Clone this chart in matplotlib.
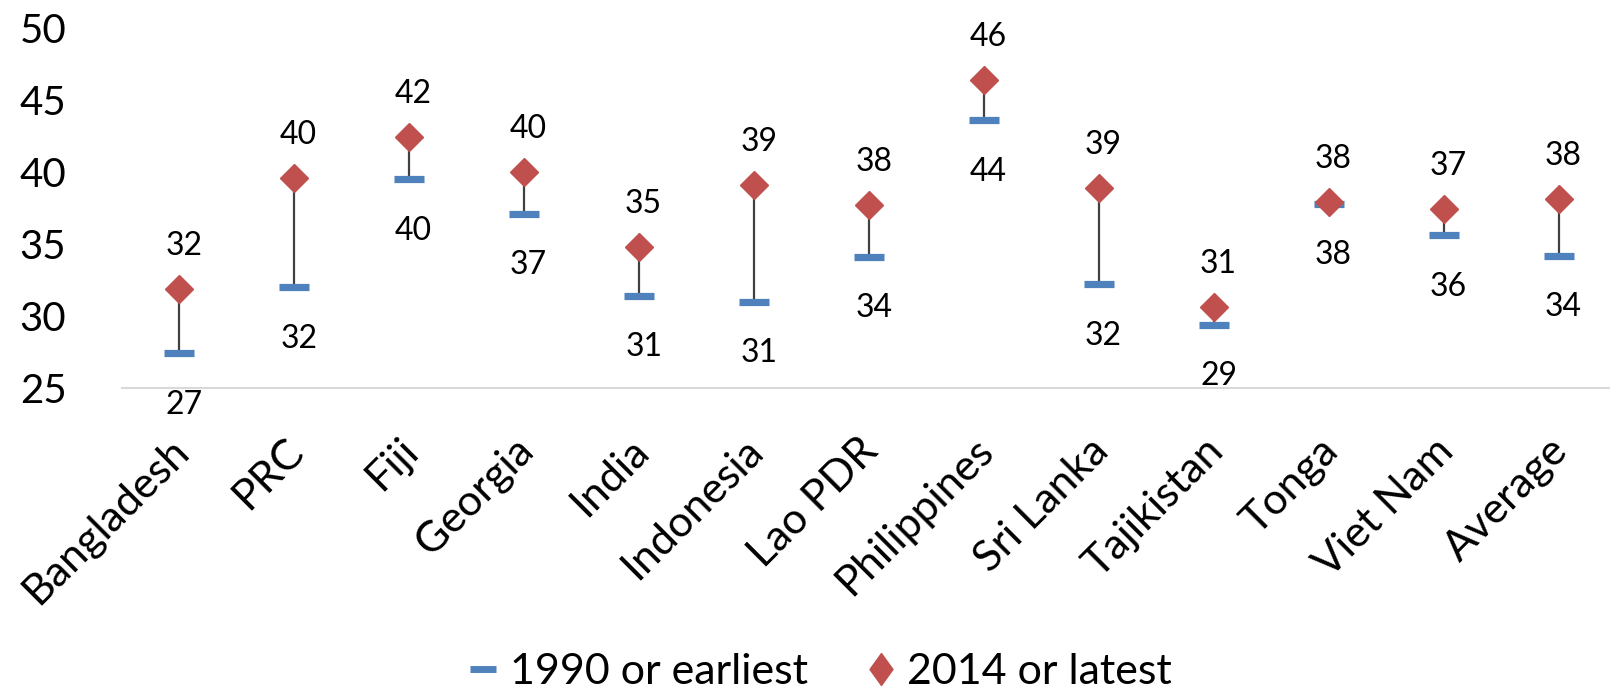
import matplotlib
matplotlib.use("Agg")
import matplotlib.pyplot as plt
from matplotlib.lines import Line2D
from matplotlib import transforms

plt.rcParams['font.family'] = ['Lato', 'DejaVu Sans']

countries = ["Bangladesh", "PRC", "Fiji", "Georgia", "India", "Indonesia",
             "Lao PDR", "Philippines", "Sri Lanka", "Tajikistan", "Tonga",
             "Viet Nam", "Average"]
earliest = [27.4, 32.0, 39.5, 37.1, 31.4, 31.0, 34.1, 43.6, 32.2, 29.4, 37.8, 35.6, 34.2]
latest = [31.9, 39.6, 42.4, 40.0, 34.8, 39.1, 37.7, 46.4, 38.9, 30.6, 37.9, 37.4, 38.1]
yticks = [25, 30, 35, 40, 45, 50]

BLUE = "#4F81BD"
RED = "#C0504D"
LINE = "#404040"

W, H = 1610, 691
fig = plt.figure(figsize=(W / 100, H / 100), dpi=100)
ax = fig.add_axes([122 / W, 1 - 388 / H, 1 - 122 / W, (388 - 28) / H])

x = list(range(len(countries)))

# high-low connector lines
ax.vlines(x, earliest, latest, color=LINE, lw=1.6, zorder=1)
ax.plot(x, earliest, ls="none", marker="_", ms=21, mew=5.2, color=BLUE, zorder=2)
ax.plot(x, latest, ls="none", marker="D", ms=14.5, color=RED, mec=RED, zorder=3)

for xi, lo, hi in zip(x, earliest, latest):
    ax.annotate(f"{hi:.0f}", (xi, hi), xytext=(3, 31), textcoords="offset points",
                ha="center", va="center", fontsize=23)
    ax.annotate(f"{lo:.0f}", (xi, lo), xytext=(3, -37), textcoords="offset points",
                ha="center", va="center", fontsize=23)

ax.set_xlim(-0.5, len(countries) - 0.56)
ax.set_ylim(25, 50)
ax.set_yticks(yticks)
ax.set_yticklabels([str(t) for t in yticks], fontsize=29)
ax.tick_params(axis="y", length=0, pad=40)
ax.set_xticks(x)
ax.set_xticklabels([])
ax.tick_params(axis="x", length=0)

for s in ["left", "right", "top"]:
    ax.spines[s].set_visible(False)
ax.spines["bottom"].set_color("#D9D9D9")
ax.spines["bottom"].set_linewidth(1.5)

# rotated category labels hanging under the axis, text end anchored on the baseline
off = transforms.ScaledTranslation(11 / 100, -65 / 100, fig.dpi_scale_trans)
trans = transforms.blended_transform_factory(ax.transData, ax.transAxes) + off
for xi, name in zip(x, countries):
    ax.text(xi, 0, name, transform=trans, rotation=45, rotation_mode="anchor",
            ha="right", va="baseline", fontsize=31)

legend_diamond = [(0, 1), (0.72, 0), (0, -1), (-0.72, 0), (0, 1)]
handles = [
    Line2D([], [], ls="none", marker="_", ms=19, mew=5, color=BLUE),
    Line2D([], [], ls="none", marker=legend_diamond, ms=23, color=RED, mec=RED),
]
fig.legend(handles, ["1990 or earliest", "2014 or latest"], loc="center",
           bbox_to_anchor=(0.51, 1 - 672 / H), ncol=2, frameon=False,
           fontsize=31, handlelength=0.62, handletextpad=0.3, columnspacing=1.4,
           borderpad=0, borderaxespad=0)

fig.savefig("out.png", dpi=100)
